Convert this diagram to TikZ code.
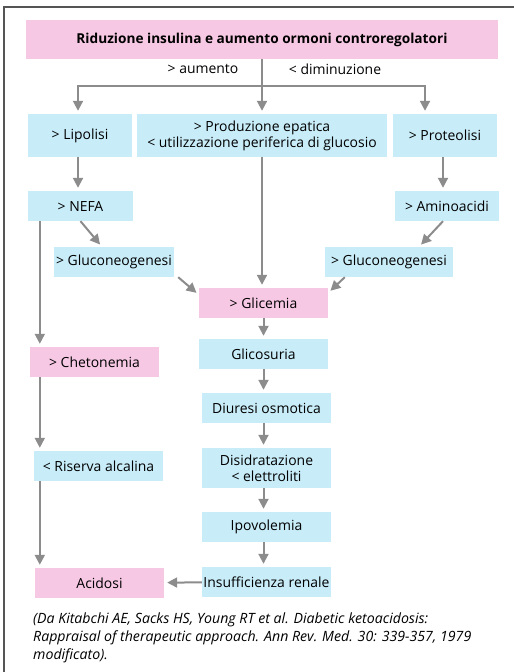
\documentclass[tikz,border=0pt]{standalone}
\usepackage{fontspec}
\setmainfont{Open Sans}
\usetikzlibrary{arrows.meta}
\definecolor{dkapink}{RGB}{247,200,228}
\definecolor{dkablue}{RGB}{200,236,248}
\definecolor{dkagray}{RGB}{140,140,140}
\definecolor{dkaframe}{RGB}{85,85,85}
\newcommand\dkatextstyle{\fontsize{14}{16}\selectfont}
\newcommand\dkanotestyle{\fontsize{14.2}{18}\selectfont\itshape}
\tikzset{
  dkabox/.style={fill=dkablue, inner sep=0pt, align=center, font=\dkatextstyle,
    minimum width=129bp, minimum height=30bp},
  dkapinkbox/.style={dkabox, fill=dkapink},
  dkaarrow/.style={draw=dkagray, line width=2bp,
    -{Triangle[width=10bp,length=10bp]}, shorten >=3bp},
}

\begin{document}
\begin{tikzpicture}[x=1bp, y=-1bp]
  \useasboundingbox (0,0) rectangle (514,672);
  % frame
  \draw[dkaframe, line width=1.2bp] (4,672) -- (4,7) -- (514,7);

  % first row
  \node[dkapinkbox, minimum width=472bp, minimum height=39bp,
    font=\fontsize{13.7}{16}\selectfont\bfseries] (ormoni) at (262,39.5)
    {Riduzione insulina e aumento ormoni controregolatori};
  \node[font=\dkatextstyle] (aumento) at (203,69) {> aumento};
  \node[font=\dkatextstyle] (diminuzione) at (335,69) {< diminuzione};
  \coordinate (bivio) at (262,86);

  \node[dkabox, minimum width=104bp, minimum height=43bp] (lipolisi) at (80,135.5) {> Lipolisi};
  \node[dkabox, minimum width=250bp, minimum height=43bp] (produzione) at (262,135.5)
    {> Produzione epatica\\< utilizzazione periferica di glucosio};
  \node[dkabox, minimum width=104bp, minimum height=43bp] (proteolisi) at (445,135.5) {> Proteolisi};

  \node[dkabox, minimum width=105bp] (nefa) at (80.5,206) {> NEFA};
  \node[dkabox, minimum width=104bp] (amino) at (447,206) {> Aminoacidi};
  \node[dkabox, minimum width=120bp] (glucsx) at (114,262) {> Gluconeogenesi};
  \node[dkabox, minimum width=128bp] (glucdx) at (389,262) {> Gluconeogenesi};

  % central column
  \node[dkapinkbox] (glicemia) at (263.5,303) {> Glicemia};
  \node[dkabox] (glicosuria) at (263.5,354) {Glicosuria};
  \node[dkabox] (diuresi) at (266.5,408) {Diuresi osmotica};
  \node[dkabox, minimum height=40bp] (disidrat) at (266.5,468) {Disidratazione\\< elettroliti};
  \node[dkabox] (ipovolemia) at (266.5,527) {Ipovolemia};
  \node[dkabox] (insuff) at (266.5,582) {Insufficienza renale};

  % left column
  \node[dkapinkbox] (chetonemia) at (94.5,362) {> Chetonemia};
  \node[dkabox] (riserva) at (98.5,466) {< Riserva alcalina};
  \node[dkapinkbox] (acidosi) at (99.5,583) {Acidosi};

  % arrows
  \draw[dkaarrow] (ormoni) -- (produzione);
  \draw[dkaarrow] (bivio) -| ([xshift=-2bp]lipolisi.north);
  \draw[dkaarrow] (bivio) -| ([xshift=-20bp]proteolisi.north);
  \draw[dkaarrow] ([xshift=-2bp]lipolisi.south) -- ([xshift=-2bp]lipolisi.south |- nefa.north);
  \draw[dkaarrow] ([xshift=-2bp]proteolisi.south) -- ([xshift=-2bp]proteolisi.south |- amino.north);
  \draw[dkaarrow] (nefa.south) -- ([xshift=-12bp]glucsx.north);
  \draw[dkaarrow] ([xshift=-4bp]amino.south) -- ([xshift=30bp]glucdx.north);
  \draw[dkaarrow] ([xshift=4bp]glucsx.south east) -- ([yshift=-7bp]glicemia.north west);
  \draw[dkaarrow] ([xshift=20bp]glucdx.south west) -- ([yshift=-5bp]glicemia.north east);
  \draw[dkaarrow] (produzione.south) -- (produzione.south |- glicemia.north);
  \draw[dkaarrow] (glicemia) -- (glicosuria);
  \draw[dkaarrow] (glicosuria.south) -- (glicosuria.south |- diuresi.north);
  \draw[dkaarrow] ([xshift=-3bp]diuresi.south) -- ([xshift=-3bp]disidrat.north);
  \draw[dkaarrow] ([xshift=-3bp]disidrat.south) -- ([xshift=-3bp]ipovolemia.north);
  \draw[dkaarrow] ([xshift=-3bp]ipovolemia.south) -- ([xshift=-3bp]insuff.north);
  \draw[dkaarrow] (insuff) -- (acidosi);
  \draw[dkaarrow] ([xshift=12bp]nefa.south west) -- ([xshift=12bp]nefa.south west |- chetonemia.north);
  \draw[dkaarrow] ([xshift=10bp]chetonemia.south west) -- ([xshift=10bp]chetonemia.south west |- riserva.north);
  \draw[dkaarrow] ([xshift=6bp]riserva.south west) -- ([xshift=6bp]riserva.south west |- acidosi.north);

  % source
  \node[anchor=north west, align=left, inner sep=0pt, font=\dkanotestyle] (fonte) at (33,613)
    {(Da Kitabchi AE, Sacks HS, Young RT et al. Diabetic ketoacidosis:\\
     Rappraisal of therapeutic approach. Ann Rev. Med. 30: 339-357, 1979\\
     modificato).};
\end{tikzpicture}
\end{document}
